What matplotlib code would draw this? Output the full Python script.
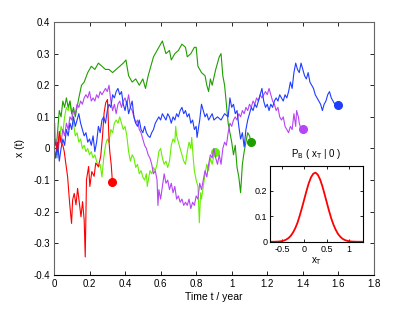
import matplotlib
matplotlib.use("Agg")
import matplotlib.pyplot as plt

plt.rcParams['font.family'] = ['Liberation Sans', 'DejaVu Sans']

# sample paths x(t)
red_t = [0, 0.01, 0.02, 0.03, 0.04, 0.05, 0.058, 0.065, 0.077, 0.085, 0.09, 0.099, 0.105, 0.114,
         0.124, 0.133, 0.142, 0.152, 0.161, 0.17, 0.176, 0.183, 0.195, 0.202, 0.213, 0.226, 0.235,
         0.25, 0.263, 0.273, 0.282, 0.291, 0.301, 0.305, 0.31, 0.315, 0.322, 0.329]
red_x = [0, 0.02, -0.01, 0.054, 0.02, 0.01, -0.01, -0.04, -0.09, -0.15, -0.184, -0.237, -0.163, -0.142,
         -0.178, -0.126, -0.168, -0.216, -0.168, -0.226, -0.343, -0.099, -0.057, -0.12, -0.073, -0.088, -0.046,
         -0.057, -0.025, 0.038, 0.112, 0.144, 0.155, 0.1, 0.02, -0.015, -0.05, -0.107]

lgreen_t = [0, 0.005, 0.01, 0.02, 0.03, 0.04, 0.05, 0.06, 0.07, 0.08, 0.09, 0.1, 0.11, 0.12, 0.13, 0.14,
            0.15, 0.16, 0.17, 0.18, 0.19, 0.2, 0.21, 0.22, 0.23, 0.24, 0.25, 0.26, 0.27, 0.28, 0.29, 0.3,
            0.31, 0.32, 0.33, 0.34, 0.35, 0.36, 0.37, 0.38, 0.39, 0.4, 0.41, 0.42, 0.43, 0.44, 0.45, 0.46,
            0.47, 0.48, 0.49, 0.5, 0.51, 0.52, 0.525, 0.54, 0.55, 0.56, 0.57, 0.58, 0.59, 0.6, 0.61, 0.62,
            0.63, 0.64, 0.65, 0.66, 0.67, 0.68, 0.685, 0.69, 0.7, 0.71, 0.72, 0.73, 0.74, 0.75, 0.76, 0.77,
            0.775, 0.785, 0.79, 0.8, 0.81, 0.818, 0.825, 0.83, 0.84, 0.85, 0.86, 0.87, 0.88, 0.89, 0.9, 0.905]
lgreen_x = [0, 0.08, 0.02, -0.03, 0.02, 0.07, 0.05, 0.1, 0.13, 0.12, 0.15, 0.11, 0.08, 0.04, 0.05, 0.02,
            0.03, 0.0, 0.01, -0.01, 0.0, -0.02, -0.01, -0.03, -0.02, -0.04, -0.06, -0.05, -0.09, -0.03, 0.01, 0.03,
            0.02, 0.06, 0.05, 0.08, 0.09, 0.08, 0.1, 0.08, 0.06, 0.07, 0.04, -0.01, -0.04, -0.02, -0.03, -0.06,
            -0.05, -0.08, -0.07, -0.09, -0.1, -0.08, -0.12, -0.07, -0.08, -0.06, -0.07, -0.05, -0.01, 0.0, -0.03, -0.05,
            -0.04, -0.06, -0.04, 0.01, 0.03, 0.02, 0.07, 0.04, 0.02, 0.0, -0.02, -0.04, -0.05, -0.01, 0.02, 0.0,
            0.035, -0.04, -0.07, -0.1, -0.12, -0.235, -0.14, -0.16, -0.12, -0.08, -0.05, -0.07, -0.03, -0.05, -0.02, -0.01]

purple_t = [0, 0.01, 0.02, 0.03, 0.04, 0.05, 0.06, 0.07, 0.08, 0.09, 0.1, 0.11, 0.12, 0.13, 0.14, 0.15,
            0.16, 0.17, 0.18, 0.19, 0.2, 0.21, 0.22, 0.23, 0.24, 0.25, 0.26, 0.27, 0.28, 0.29, 0.3, 0.31,
            0.32, 0.33, 0.34, 0.35, 0.36, 0.37, 0.38, 0.39, 0.4, 0.41, 0.42, 0.43, 0.44, 0.45, 0.46, 0.47,
            0.48, 0.49, 0.5, 0.51, 0.52, 0.53, 0.54, 0.55, 0.56, 0.57, 0.58, 0.585, 0.59, 0.6, 0.61, 0.62,
            0.63, 0.64, 0.65, 0.66, 0.67, 0.68, 0.69, 0.7, 0.71, 0.72, 0.73, 0.74, 0.75, 0.76, 0.77, 0.78,
            0.79, 0.8, 0.81, 0.82, 0.83, 0.84, 0.85, 0.86, 0.87, 0.88, 0.89, 0.9, 0.91, 0.92, 0.93, 0.94,
            0.95, 0.96, 0.97, 0.98, 0.99, 1.0, 1.01, 1.02, 1.03, 1.04, 1.05, 1.06, 1.07, 1.08, 1.09, 1.1,
            1.11, 1.12, 1.13, 1.14, 1.15, 1.16, 1.17, 1.18, 1.19, 1.2, 1.21, 1.22, 1.23, 1.24, 1.25, 1.26,
            1.27, 1.28, 1.29, 1.3, 1.31, 1.32, 1.33, 1.34, 1.35, 1.36, 1.365, 1.375, 1.38, 1.39, 1.4]
purple_x = [0, 0.03, -0.02, 0.04, 0.02, 0.06, 0.04, 0.08, 0.06, 0.1, 0.09, 0.12, 0.11, 0.14, 0.13, 0.15,
            0.14, 0.16, 0.17, 0.16, 0.18, 0.15, 0.16, 0.15, 0.17, 0.16, 0.18, 0.17, 0.18, 0.19, 0.18, 0.2,
            0.15, 0.12, 0.14, 0.11, 0.14, 0.15, 0.13, 0.15, 0.16, 0.14, 0.17, 0.13, 0.12, 0.1, 0.08, 0.09,
            0.06, 0.05, 0.03, 0.01, 0.0, -0.02, -0.03, -0.05, -0.08, -0.07, -0.1, -0.18, -0.13, -0.16, -0.12, -0.08,
            -0.11, -0.1, -0.13, -0.11, -0.14, -0.12, -0.16, -0.15, -0.17, -0.16, -0.18, -0.17, -0.18, -0.16, -0.19, -0.17,
            -0.18, -0.15, -0.16, -0.11, -0.13, -0.1, -0.07, -0.09, -0.05, -0.02, -0.03, 0.0, -0.03, -0.05, -0.02, -0.05,
            0.0, 0.02, 0.01, 0.05, 0.08, 0.07, 0.09, 0.1, 0.09, 0.11, 0.1, 0.12, 0.11, 0.13, 0.12, 0.14,
            0.13, 0.15, 0.14, 0.16, 0.15, 0.17, 0.16, 0.17, 0.18, 0.17, 0.19, 0.17, 0.15, 0.14, 0.12, 0.13,
            0.1, 0.09, 0.1, 0.07, 0.06, 0.05, 0.07, 0.06, 0.11, 0.07, 0.12, 0.1, 0.08, 0.06, 0.062]

dgreen_t = [0, 0.01, 0.02, 0.03, 0.04, 0.05, 0.06, 0.07, 0.08, 0.09, 0.1, 0.11, 0.12, 0.14, 0.155, 0.17,
            0.19, 0.21, 0.23, 0.25, 0.27, 0.29, 0.31, 0.33, 0.35, 0.37, 0.39, 0.405, 0.42, 0.44, 0.46, 0.48,
            0.5, 0.515, 0.53, 0.55, 0.56, 0.58, 0.6, 0.61, 0.63, 0.65, 0.66, 0.68, 0.7, 0.72, 0.74, 0.75,
            0.77, 0.79, 0.8, 0.81, 0.83, 0.85, 0.86, 0.87, 0.88, 0.89, 0.91, 0.93, 0.94, 0.95, 0.96, 0.97,
            0.98, 0.99, 1.0, 1.01, 1.02, 1.03, 1.04, 1.05, 1.06, 1.07, 1.08, 1.09, 1.1, 1.11]
dgreen_x = [0, -0.03, 0.05, 0.12, 0.1, 0.15, 0.13, 0.16, 0.13, 0.15, 0.11, 0.13, 0.1, 0.16, 0.2, 0.21,
            0.24, 0.26, 0.25, 0.27, 0.26, 0.25, 0.25, 0.24, 0.25, 0.26, 0.27, 0.28, 0.23, 0.21, 0.22, 0.2,
            0.22, 0.19, 0.23, 0.27, 0.29, 0.31, 0.33, 0.34, 0.3, 0.31, 0.28, 0.3, 0.31, 0.33, 0.32, 0.29,
            0.3, 0.32, 0.32, 0.26, 0.24, 0.23, 0.2, 0.18, 0.22, 0.2, 0.25, 0.29, 0.3, 0.23, 0.2, 0.14,
            0.08, 0.05, 0.02, -0.02, 0.01, -0.06, -0.09, -0.14, -0.05, -0.01, 0.02, 0.05, 0.04, 0.02]

blue_t = [0, 0.01, 0.02, 0.03, 0.04, 0.05, 0.06, 0.07, 0.08, 0.09, 0.1, 0.11, 0.12, 0.13, 0.14, 0.15,
          0.16, 0.17, 0.18, 0.19, 0.2, 0.21, 0.22, 0.23, 0.24, 0.25, 0.26, 0.27, 0.28, 0.29, 0.3, 0.31,
          0.32, 0.33, 0.34, 0.35, 0.36, 0.37, 0.38, 0.39, 0.4, 0.41, 0.42, 0.43, 0.44, 0.45, 0.46, 0.47,
          0.48, 0.49, 0.5, 0.51, 0.52, 0.53, 0.54, 0.55, 0.56, 0.57, 0.58, 0.59, 0.6, 0.61, 0.62, 0.63,
          0.64, 0.65, 0.66, 0.67, 0.68, 0.69, 0.7, 0.71, 0.72, 0.73, 0.74, 0.75, 0.76, 0.77, 0.78, 0.79,
          0.8, 0.805, 0.82, 0.83, 0.84, 0.85, 0.86, 0.87, 0.88, 0.89, 0.9, 0.92, 0.94, 0.96, 0.98, 0.99,
          1.0, 1.01, 1.02, 1.03, 1.04, 1.05, 1.06, 1.07, 1.08, 1.09, 1.1, 1.11, 1.12, 1.13, 1.14, 1.15,
          1.16, 1.17, 1.18, 1.19, 1.2, 1.21, 1.22, 1.23, 1.24, 1.25, 1.26, 1.27, 1.28, 1.29, 1.3, 1.31,
          1.32, 1.33, 1.34, 1.35, 1.36, 1.37, 1.38, 1.39, 1.4, 1.41, 1.42, 1.43, 1.44, 1.45, 1.46, 1.47,
          1.48, 1.49, 1.5, 1.51, 1.52, 1.53, 1.54, 1.55, 1.56, 1.57, 1.58, 1.59, 1.6]
blue_x = [0, -0.03, 0.02, -0.04, 0.0, 0.03, 0.01, 0.06, 0.04, 0.08, 0.06, 0.1, 0.07, 0.09, 0.11, 0.08,
          0.06, 0.04, 0.05, 0.02, 0.03, 0.01, 0.04, -0.01, 0.02, 0.07, 0.05, 0.09, 0.1, 0.08, 0.12, 0.14,
          0.13, 0.17, 0.16, 0.18, 0.19, 0.17, 0.18, 0.14, 0.12, 0.15, 0.11, 0.13, 0.15, 0.1, 0.08, 0.07,
          0.09, 0.06, 0.05, 0.07, 0.05, 0.04, 0.035, 0.05, 0.06, 0.08, 0.09, 0.1, 0.09, 0.11, 0.1, 0.09,
          0.11, 0.1, 0.08, 0.1, 0.09, 0.11, 0.1, 0.12, 0.13, 0.11, 0.12, 0.1, 0.11, 0.08, 0.09, 0.06,
          0.07, 0.035, 0.09, 0.14, 0.12, 0.1, 0.11, 0.09, 0.1, 0.11, 0.09, 0.1, 0.09, 0.11, 0.1, 0.16,
          0.13, 0.14, 0.11, 0.12, 0.07, 0.03, 0.05, 0.005, 0.06, 0.09, 0.11, 0.13, 0.12, 0.14, 0.13, 0.15,
          0.17, 0.19, 0.15, 0.13, 0.14, 0.12, 0.14, 0.13, 0.15, 0.16, 0.15, 0.17, 0.16, 0.15, 0.17, 0.16,
          0.18, 0.21, 0.19, 0.24, 0.27, 0.25, 0.24, 0.27, 0.25, 0.23, 0.22, 0.24, 0.21, 0.2, 0.19, 0.17,
          0.16, 0.15, 0.14, 0.12, 0.14, 0.15, 0.17, 0.18, 0.16, 0.15, 0.14, 0.135, 0.137]

# inset: distribution of x_T
pdf_x = [-0.75, -0.7, -0.65, -0.6, -0.55, -0.5, -0.45, -0.4, -0.35, -0.3, -0.25, -0.2, -0.15, -0.1,
         -0.05, 0.0, 0.05, 0.1, 0.15, 0.2, 0.25, 0.3, 0.35, 0.4, 0.45, 0.5, 0.55, 0.6, 0.65, 0.7,
         0.75, 0.8, 0.85, 0.9, 0.95, 1.0, 1.05, 1.1, 1.15, 1.2, 1.25, 1.3]
pdf_y = [0.0001, 0.0002, 0.0004, 0.0008, 0.0015, 0.0028, 0.0051, 0.009, 0.015, 0.024, 0.037, 0.054, 0.076, 0.104,
         0.135, 0.168, 0.201, 0.231, 0.254, 0.268, 0.272, 0.264, 0.246, 0.220, 0.188, 0.155, 0.122, 0.092, 0.067, 0.047,
         0.031, 0.020, 0.012, 0.0072, 0.0041, 0.0022, 0.0011, 0.0006, 0.0003, 0.0001, 0.0001, 0.0]

paths = [
    (lgreen_t, lgreen_x, '#66ee00'),
    (dgreen_t, dgreen_x, '#1f9e00'),
    (purple_t, purple_x, '#b545f5'),
    (blue_t, blue_x, '#1f3dff'),
    (red_t, red_x, '#ff0000'),
]

fig = plt.figure(figsize=(4.15, 3.1), dpi=100)
ax = fig.add_axes([0.130, 0.113, 0.771, 0.816])

for t, x, c in paths:
    ax.plot(t, x, color=c, lw=0.8)
    ax.plot(t[-1], x[-1], 'o', color=c, ms=5.5, mec=c)

ax.set_xlim(0, 1.8)
ax.set_ylim(-0.4, 0.4)
ax.set_xticks([0, 0.2, 0.4, 0.6, 0.8, 1.0, 1.2, 1.4, 1.6, 1.8])
ax.set_xticklabels(['0', '0.2', '0.4', '0.6', '0.8', '1', '1.2', '1.4', '1.6', '1.8'])
ax.set_yticks([-0.4, -0.3, -0.2, -0.1, 0, 0.1, 0.2, 0.3, 0.4])
ax.set_yticklabels(['-0.4', '-0.3', '-0.2', '-0.1', '0', '0.1', '0.2', '0.3', '0.4'])
ax.tick_params(direction='in', top=True, right=True, labelsize=7, length=3, width=0.6, pad=3)
for s in ['top', 'left', 'right']:
    ax.spines[s].set_color('#666666')
    ax.spines[s].set_linewidth(0.8)
ax.spines['bottom'].set_linewidth(0.8)
ax.set_xlabel('Time t / year', fontsize=7.5, labelpad=2)
ax.set_ylabel('x (t)', fontsize=7.5, labelpad=6)

# inset
ins = fig.add_axes([0.651, 0.220, 0.223, 0.246])
ins.plot(pdf_x, pdf_y, color='#ff0000', lw=1.3)
ins.set_xlim(-0.76, 1.3)
ins.set_ylim(0, 0.3)
ins.set_xticks([-0.5, 0, 0.5, 1])
ins.set_xticklabels(['-0.5', '0', '0.5', '1'])
ins.set_yticks([0, 0.1, 0.2])
ins.set_yticklabels(['0', '0.1', '0.2'])
ins.tick_params(direction='in', top=True, right=True, labelsize=6.5, length=2.5, width=0.6, pad=2)
for s in ins.spines.values():
    s.set_linewidth(0.8)
ins.set_title(r'P$_{\rm B}$ ( x$_{\rm T}$ | 0 )', fontsize=7, pad=6)
ins.set_xlabel(r'x$_{\rm T}$', fontsize=7, labelpad=1)

fig.savefig('out.png', dpi=100)
